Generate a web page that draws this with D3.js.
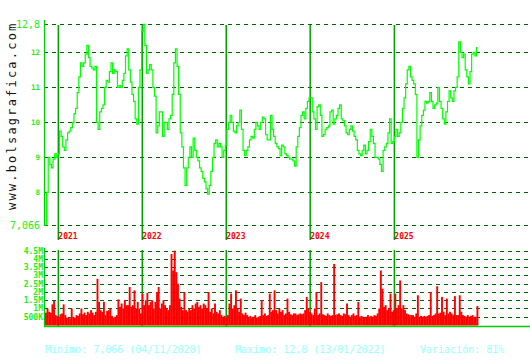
<!DOCTYPE html>
<html><head><meta charset="utf-8">
<script src="https://cdn.jsdelivr.net/npm/d3@7"></script>
<style>body{margin:0;background:#fff}svg{display:block}</style>
</head><body>
<script>
// ---- DATA ----
const startDate = "2020-11-04";
const stepDays = 7; // weekly samples
const priceValues = [
7.066,8.0,9.0,8.8,8.7,8.95,9.1,9.0,9.1,9.75,
9.6,9.3,9.2,9.5,9.7,9.75,9.85,10.0,10.25,10.4,
10.85,11.3,11.7,11.6,11.7,11.95,12.2,11.85,11.6,11.55,
11.5,11.6,10.0,9.8,10.3,10.4,10.5,11.0,11.2,11.15,
11.45,11.7,11.4,11.5,11.45,11.0,11.05,11.0,11.2,11.4,
11.9,12.1,11.5,11.15,10.8,10.6,10.1,9.95,11.0,11.5,
12.6,12.8,12.2,11.4,11.5,11.65,11.5,11.0,10.75,9.7,
9.9,10.3,10.3,9.6,10.0,10.0,9.8,10.1,10.2,10.8,
11.7,12.1,11.6,10.8,9.7,9.3,8.7,8.2,8.7,9.0,
9.3,9.0,9.55,9.2,9.0,8.9,8.7,8.6,8.4,8.3,
8.1,7.95,8.2,8.6,9.0,9.4,9.5,9.3,9.4,9.3,
9.0,9.2,9.35,9.8,10.0,10.2,10.0,9.75,9.7,9.9,
10.0,10.35,9.8,9.2,9.05,9.2,9.3,9.5,9.6,9.55,
9.8,10.0,9.9,9.8,10.0,10.15,10.1,9.65,9.5,9.5,
10.2,9.8,9.6,9.4,9.3,9.25,9.05,9.35,9.3,9.1,
9.05,9.0,8.95,8.95,8.9,8.75,9.3,9.6,9.85,10.2,
10.3,10.1,10.4,10.6,10.7,10.7,10.3,10.1,9.8,10.45,
10.5,10.2,9.6,9.65,9.8,9.85,9.9,10.3,10.35,9.95,
10.1,10.2,10.4,10.5,10.1,10.05,9.9,9.7,9.65,9.8,
9.9,9.75,9.6,9.5,9.2,9.1,9.05,9.2,9.35,9.1,
9.2,9.45,9.8,9.6,9.4,9.0,9.0,8.95,8.8,8.6,
9.2,9.3,9.4,9.7,10.1,9.4,9.45,9.6,9.8,9.6,
9.7,10.0,10.4,10.7,11.1,11.5,11.6,11.3,11.2,11.1,
10.8,9.0,9.5,9.9,10.2,10.35,10.6,10.55,10.6,10.85,
10.6,10.4,10.5,10.55,11.0,10.6,10.4,10.1,9.95,10.3,
10.6,10.9,10.7,10.6,10.9,11.0,11.3,12.3,12.0,11.85,
11.95,11.5,11.3,11.1,11.45,11.95,12.0,11.9,12.15
];
// volume in millions
const volumeValues = [
0.75,1.0,0.8,0.75,1.25,1.45,0.6,0.55,0.5,0.65,
0.7,1.25,0.6,0.45,0.45,0.4,1.0,0.5,0.45,0.6,
0.55,0.7,1.0,0.65,0.75,0.6,0.8,0.7,0.9,0.75,
0.6,0.8,2.8,1.4,0.9,0.8,1.4,0.6,0.85,0.9,
1.0,0.55,0.45,0.5,0.6,1.55,1.1,1.3,1.0,1.5,
1.2,1.2,2.3,1.1,1.2,2.1,1.0,1.4,1.0,0.7,
1.9,1.2,1.5,1.95,1.2,1.4,1.5,1.0,1.4,2.0,
2.3,1.0,1.3,1.5,1.2,1.0,0.9,1.2,4.3,3.3,
4.5,3.2,2.5,1.6,1.1,0.9,2.0,0.9,0.8,1.0,
0.9,1.2,1.0,1.3,1.4,1.1,1.2,1.0,1.3,1.2,
1.0,2.0,0.8,1.0,0.7,1.3,0.8,0.7,0.9,0.6,
0.5,0.55,0.45,0.6,1.3,1.9,1.0,1.2,2.1,1.0,
0.8,1.6,0.7,0.6,0.75,0.6,0.5,0.55,0.45,0.5,
0.6,0.45,0.5,0.55,1.5,0.6,0.7,0.55,0.6,1.9,
0.8,0.9,2.1,0.9,0.7,1.0,0.8,0.9,0.6,0.7,
1.6,0.8,0.65,0.6,0.7,0.7,0.6,0.65,0.7,0.65,
0.7,0.9,1.7,1.0,0.8,0.7,0.6,1.0,2.0,0.6,
0.7,2.6,0.65,0.6,0.55,0.7,0.6,0.55,0.6,3.7,
0.6,0.65,0.7,0.6,0.55,0.7,0.65,1.3,0.6,0.5,
0.6,0.7,0.55,0.6,1.4,0.5,0.55,0.5,0.45,0.5,
0.6,0.5,0.55,0.5,0.6,0.55,0.7,1.0,3.3,2.2,
1.1,1.2,0.9,1.0,1.9,0.8,0.9,1.9,1.0,1.2,
2.7,1.0,1.2,0.9,0.7,0.65,0.6,0.6,0.6,0.5,
0.7,1.8,0.5,0.55,0.5,0.55,0.5,0.55,0.6,2.0,
0.55,0.6,0.7,2.35,0.7,0.75,1.7,0.8,0.6,1.6,
0.7,0.8,0.7,0.6,1.75,0.6,0.6,1.8,0.8,0.6,
0.55,0.5,0.6,0.5,0.55,0.6,0.5,0.5,1.15
];
const priceTicks = [12.8, 12, 11, 10, 9, 8, 7.066];
const priceTickLabels = ["12,8", "12", "11", "10", "9", "8", "7,066"];
const bigTicks = ["12,8", "7,066"];
const volTicks = [4.5, 4, 3.5, 3, 2.5, 2, 1.5, 1, 0.5];
const volTickLabels = ["4.5M", "4M", "3.5M", "3M", "2.5M", "2M", "1.5M", "1M", "500K"];
const years = ["2021", "2022", "2023", "2024", "2025"];
const footer = ["Minimo: 7,066 (04/11/2020)", "Maximo: 12,8 (13/01/2022)", "Variación: 81%"];
const watermark = "www.bolsagrafica.com";

// ---- CHART ----
const W = 530, H = 360;
const svg = d3.select("body").append("svg").attr("width", W).attr("height", H)
  .style("font-family", "'DejaVu Sans Mono', monospace");

const parse = d3.timeParse("%Y-%m-%d");
const t0 = parse(startDate);
const dates = priceValues.map((_, i) => d3.timeDay.offset(t0, i * stepDays));

const x = d3.scaleTime().domain([t0, parse("2026-08-05")]).range([45, 528]);
const y = d3.scaleLinear().domain([7.066, 12.8]).range([225, 24.3]);
const yv = d3.scaleLinear().domain([0, 4.5]).range([325, 250.7]);

const gridColor = "#006400";
const yearColor = "#00a000";
const axisColor = "#00cc00";

// price grid
svg.append("g").selectAll("line").data(priceTicks).join("line")
  .attr("x1", 44).attr("x2", 528)
  .attr("y1", d => Math.round(y(d)) + 0.5).attr("y2", d => Math.round(y(d)) + 0.5)
  .attr("stroke", gridColor).attr("stroke-dasharray", "4,4");

// volume grid
svg.append("g").selectAll("line").data(volTicks).join("line")
  .attr("x1", 44).attr("x2", 528)
  .attr("y1", d => Math.round(yv(d)) + 0.5).attr("y2", d => Math.round(yv(d)) + 0.5)
  .attr("stroke", gridColor).attr("stroke-dasharray", "4,4");

// year lines
const yearDates = years.map(s => parse(s + "-01-01"));
svg.append("g").selectAll("line").data(yearDates).join("line")
  .attr("x1", d => x(d)).attr("x2", d => x(d)).attr("y1", 25).attr("y2", 240)
  .attr("stroke", yearColor).attr("stroke-width", 1.5);
svg.append("g").selectAll("line").data(yearDates).join("line")
  .attr("x1", d => x(d)).attr("x2", d => x(d)).attr("y1", 250).attr("y2", 326)
  .attr("stroke", yearColor).attr("stroke-width", 1.5);

// year labels
svg.append("g").selectAll("text").data(years).join("text")
  .attr("x", (d, i) => x(yearDates[i])).attr("y", 239)
  .attr("fill", "#ff0000").attr("font-size", 8).attr("font-weight", "bold")
  .text(d => d);

// volume bars
const bw = x(d3.timeDay.offset(t0, stepDays)) - x(t0) + 0.3;
svg.append("g").selectAll("rect").data(volumeValues).join("rect")
  .attr("x", (d, i) => x(dates[i])).attr("width", bw)
  .attr("y", d => yv(d)).attr("height", d => yv(0) - yv(d) + 0.5)
  .attr("fill", "#ff0000");

// price line
svg.append("path").datum(priceValues)
  .attr("d", d3.line().x((d, i) => x(dates[i])).y(d => y(d)).curve(d3.curveStepAfter))
  .attr("fill", "none").attr("stroke", "#00ff00").attr("stroke-width", 1.2);

// axes lines
svg.append("line").attr("x1", 44.5).attr("x2", 44.5).attr("y1", 20).attr("y2", 226)
  .attr("stroke", axisColor).attr("stroke-width", 1.2);
svg.append("line").attr("x1", 44.5).attr("x2", 44.5).attr("y1", 248).attr("y2", 326)
  .attr("stroke", axisColor).attr("stroke-width", 1.2);
svg.append("line").attr("x1", 44).attr("x2", 530).attr("y1", 326.5).attr("y2", 326.5)
  .attr("stroke", axisColor).attr("stroke-width", 1.5);

// price tick labels
svg.append("g").selectAll("text").data(priceTicks).join("text")
  .attr("x", 40).attr("y", d => y(d)).attr("dy", "0.35em")
  .attr("text-anchor", "end").attr("fill", "#22ee22")
  .attr("font-size", (d, i) => bigTicks.includes(priceTickLabels[i]) ? 10 : 7.5)
  .attr("font-weight", (d, i) => bigTicks.includes(priceTickLabels[i]) ? "normal" : "bold")
  .text((d, i) => priceTickLabels[i]);

// volume tick labels
svg.append("g").selectAll("text").data(volTicks).join("text")
  .attr("x", 43).attr("y", d => yv(d)).attr("dy", "0.35em")
  .attr("text-anchor", "end").attr("fill", "#22ee22")
  .attr("font-size", 8).attr("font-weight", "bold")
  .text((d, i) => volTickLabels[i]);

// watermark
svg.append("text").attr("transform", "translate(16,210) rotate(-90)")
  .attr("font-size", 12).attr("letter-spacing", 2.2).attr("fill", "#111")
  .text(watermark);

// footer
const fx = [45, 235, 420];
svg.append("g").selectAll("text").data(footer).join("text")
  .attr("x", (d, i) => fx[i]).attr("y", 353)
  .attr("fill", "#99ffff").attr("font-size", 10)
  .text(d => d);
</script>
</body></html>
